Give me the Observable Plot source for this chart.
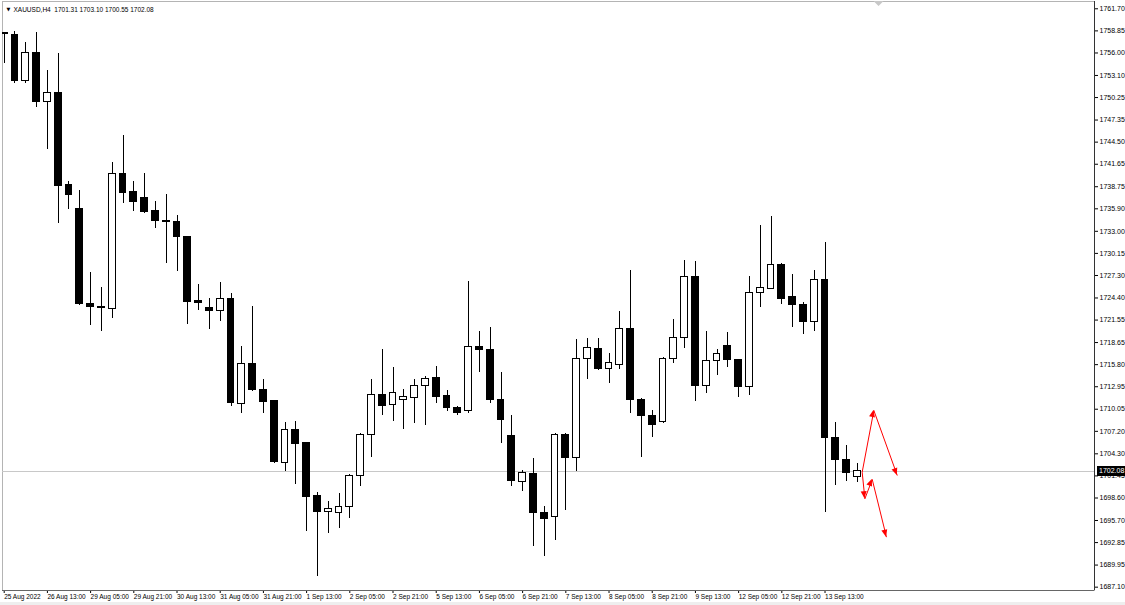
<!DOCTYPE html>
<html><head><meta charset="utf-8">
<script src="https://cdn.jsdelivr.net/npm/d3@7"></script>
<script src="https://cdn.jsdelivr.net/npm/@observablehq/plot@0.6"></script>
<style>html,body{margin:0;padding:0;background:#fff;} svg{display:block;}</style>
</head><body><div id="chart"></div>
<script>
// ---- data (XAUUSD H4) ----
const symbolTitle = "XAUUSD,H4  1701.31 1703.10 1700.55 1702.08";
const opens = [1758.60,1758.38,1752.36,1755.97,1749.65,1750.90,1738.95,1735.94,1723.65,1723.30,
  1723.01,1740.37,1738.01,1737.27,1735.56,1734.39,1734.23,1732.27,1723.95,1723.17,
  1722.70,1724.33,1710.75,1715.91,1712.56,1711.09,1703.14,1707.31,1705.67,1698.84,
  1696.82,1696.64,1697.42,1701.50,1706.75,1711.91,1710.62,1711.27,1711.53,1713.02,
  1714.05,1711.82,1710.19,1709.80,1718.05,1717.63,1711.18,1706.57,1700.64,1701.72,
  1696.69,1696.09,1706.79,1703.79,1716.56,1717.85,1715.18,1715.78,1720.43,1711.27,
  1709.21,1708.34,1716.56,1719.27,1727.17,1713.11,1716.25,1718.27,1716.34,1712.89,
  1725.07,1725.58,1728.59,1724.59,1723.52,1721.28,1726.66,1706.32,1703.44,1701.31];
const highs = [1758.64,1758.77,1757.31,1758.68,1753.74,1755.90,1739.42,1738.26,1727.73,1725.71,
  1741.84,1745.36,1739.42,1740.42,1736.85,1737.75,1735.04,1732.33,1726.14,1724.33,
  1726.40,1724.94,1718.14,1723.30,1713.85,1711.18,1708.34,1708.51,1705.76,1699.35,
  1698.15,1699.14,1701.57,1706.96,1713.89,1717.76,1715.40,1712.60,1713.89,1714.31,
  1715.56,1712.47,1710.40,1726.53,1720.08,1720.55,1714.83,1709.24,1702.15,1703.66,
  1697.51,1706.92,1706.96,1719.01,1719.21,1719.13,1717.20,1722.66,1727.95,1711.40,
  1709.89,1716.76,1721.63,1729.24,1729.11,1720.12,1717.76,1720.01,1716.43,1727.21,
  1733.75,1734.91,1728.89,1727.43,1723.78,1727.95,1731.60,1708.38,1705.37,1703.10];
const lows = [1754.64,1752.10,1752.10,1749.01,1743.51,1733.97,1735.77,1723.43,1720.85,1720.08,
  1721.79,1736.63,1735.59,1735.36,1733.40,1728.81,1727.86,1720.94,1722.79,1720.37,
  1721.33,1710.44,1709.46,1712.38,1709.46,1703.09,1702.05,1700.31,1694.32,1688.52,
  1694.06,1694.71,1696.00,1700.12,1703.87,1709.24,1708.51,1707.48,1708.17,1707.95,
  1710.83,1709.80,1709.20,1709.54,1714.83,1710.83,1705.67,1700.12,1699.48,1692.35,
  1691.06,1693.12,1696.99,1702.06,1713.85,1715.05,1713.33,1715.18,1709.46,1703.79,
  1706.37,1708.17,1715.91,1717.92,1711.09,1712.04,1714.40,1715.47,1711.60,1711.86,
  1723.21,1725.46,1723.52,1720.63,1719.69,1720.07,1696.77,1700.22,1700.77,1700.55];
const closes = [1758.45,1752.36,1755.97,1749.65,1750.90,1738.87,1737.66,1723.56,1723.21,1723.08,
  1740.42,1737.97,1736.75,1735.47,1734.30,1734.17,1732.24,1723.86,1723.73,1722.70,
  1724.29,1710.83,1715.91,1712.56,1710.92,1703.22,1707.31,1705.59,1698.71,1696.77,
  1697.21,1697.42,1701.50,1706.79,1711.91,1710.53,1712.17,1711.60,1713.02,1713.98,
  1711.69,1710.19,1709.59,1718.14,1717.63,1711.18,1708.64,1700.77,1701.80,1696.69,
  1695.92,1706.79,1703.79,1716.56,1717.98,1715.18,1715.99,1720.43,1711.27,1709.21,
  1708.08,1716.56,1719.27,1727.17,1713.11,1716.25,1717.20,1716.34,1712.89,1725.07,
  1725.66,1728.59,1724.21,1723.52,1721.28,1726.66,1706.32,1703.44,1701.80,1702.08];
const xLabels = ["25 Aug 2022","26 Aug 13:00","29 Aug 05:00","29 Aug 21:00","30 Aug 13:00",
  "31 Aug 05:00","31 Aug 21:00","1 Sep 13:00","2 Sep 05:00","2 Sep 21:00","5 Sep 13:00",
  "6 Sep 05:00","6 Sep 21:00","7 Sep 13:00","8 Sep 05:00","8 Sep 21:00","9 Sep 13:00",
  "12 Sep 05:00","12 Sep 21:00","13 Sep 13:00"];
const xTickBars = [0,4,8,12,16,20,24,28,32,36,40,44,48,52,56,60,64,68,72,76];
const yTicks = [1761.70,1758.85,1756.00,1753.10,1750.25,1747.35,1744.50,1741.65,1738.75,1735.90,
  1733.00,1730.15,1727.30,1724.40,1721.55,1718.65,1715.80,1712.95,1710.05,1707.20,1704.30,
  1701.45,1698.60,1695.70,1692.85,1689.95,1687.10];
const lastPrice = 1702.08;
// red forecast arrows (bar index, price)
const arrowFromX = [79.44, 80.52, 79.44, 79.69, 80.37];
const arrowFromY = [1701.93, 1709.89, 1701.93, 1698.50, 1700.99];
const arrowToX   = [80.52, 82.69, 79.69, 80.37, 81.69];
const arrowToY   = [1709.89, 1701.50, 1698.50, 1700.99, 1693.55];
const shiftMarkerBar = 81;

// ---- build tables ----
const bars = opens.map((o, i) => ({i, open: o, high: highs[i], low: lows[i], close: closes[i]}));
const bull = bars.filter(d => d.close >= d.open);
const bear = bars.filter(d => d.close < d.open);
const arrows = arrowFromX.map((x, k) => ({x1: x, y1: arrowFromY[k], x2: arrowToX[k], y2: arrowToY[k]}));
const labelAt = new Map(xTickBars.map((t, k) => [t, xLabels[k]]));
const xDomain = [-0.157, 100.95];
const yDomain = [1686.67, 1762.64];

function overlay(index, scales, values, dimensions) {
  const g = d3.create("svg:g");
  const {width, height, marginRight} = dimensions;
  // arrow heads
  for (const s of arrows) {
    const x1 = scales.x(s.x1), y1 = scales.y(s.y1), x2 = scales.x(s.x2), y2 = scales.y(s.y2);
    const a = Math.atan2(y2 - y1, x2 - x1), L = 7, W = 3;
    const bx = x2 - L * Math.cos(a), by = y2 - L * Math.sin(a);
    const p = [[x2, y2], [bx + W * Math.sin(a), by - W * Math.cos(a)], [bx - W * Math.sin(a), by + W * Math.cos(a)]];
    g.append("path").attr("d", "M" + p.join("L") + "Z").attr("fill", "red");
  }
  // shift marker
  const sx = scales.x(shiftMarkerBar);
  g.append("path").attr("d", `M${sx-5},1L${sx+5},1L${sx},6Z`).attr("fill", "#c8c8c8");
  // current price box
  const py = Math.round(scales.y(lastPrice));
  const bx0 = width - marginRight + 3;
  g.append("rect").attr("x", bx0).attr("y", py - 5).attr("width", 28).attr("height", 10).attr("fill", "black");
  g.append("text").attr("x", bx0 + 2).attr("y", py).attr("dy", "0.35em").attr("fill", "white")
    .attr("text-anchor", "start").attr("font-size", 7).text(lastPrice.toFixed(2));
  // bottom strip
  g.append("rect").attr("x", 0).attr("y", height - 3).attr("width", width).attr("height", 3).attr("fill", "#eeeeee");
  return g.node();
}

const chart = Plot.plot({
  width: 1125, height: 605,
  marginTop: 1, marginRight: 31, marginBottom: 15, marginLeft: 2,
  style: {fontFamily: "'Liberation Sans', Arial, sans-serif", fontSize: "7px", background: "white", color: "black"},
  x: {type: "linear", domain: xDomain},
  y: {type: "linear", domain: yDomain},
  marks: [
    Plot.frame({stroke: "#b4b4b4"}),
    Plot.ruleY([lastPrice], {stroke: "#c8c8c8", shapeRendering: "crispEdges"}),
    Plot.ruleX(bars, {x: "i", y1: "low", y2: "high", stroke: "black", clip: true, shapeRendering: "crispEdges"}),
    Plot.rect(bear, {x1: d => d.i - 0.31, x2: d => d.i + 0.31, y1: "open", y2: "close", fill: "black", stroke: "black", clip: true, shapeRendering: "crispEdges"}),
    Plot.rect(bull, {x1: d => d.i - 0.31, x2: d => d.i + 0.31, y1: "open", y2: "close", fill: "white", stroke: "black", clip: true, shapeRendering: "crispEdges"}),
    Plot.link(arrows, {x1: "x1", y1: "y1", x2: "x2", y2: "y2", stroke: "red", strokeWidth: 1}),
    Plot.axisY({anchor: "right", ticks: yTicks, tickFormat: d => d.toFixed(2), tickSize: 3, tickPadding: 2, fontSize: 7}),
    Plot.axisX({anchor: "bottom", ticks: xTickBars, tickFormat: d => labelAt.get(d), tickSize: 3, tickPadding: 1, textAnchor: "start", dx: 0, fontSize: 6.5}),
    Plot.ruleX([xDomain[1]], {stroke: "#333", shapeRendering: "crispEdges"}),
    Plot.ruleY([yDomain[0]], {stroke: "#666", shapeRendering: "crispEdges"}),
    Plot.text(["▼"], {frameAnchor: "top-left", dx: 4, dy: 8, fontSize: 5, fontFamily: "DejaVu Sans", lineAnchor: "middle"}),
    Plot.text([symbolTitle], {frameAnchor: "top-left", dx: 11, dy: 8, textAnchor: "start", lineAnchor: "middle", fontSize: 6.5}),
    overlay
  ]
});
document.getElementById("chart").appendChild(chart);
</script></body></html>
